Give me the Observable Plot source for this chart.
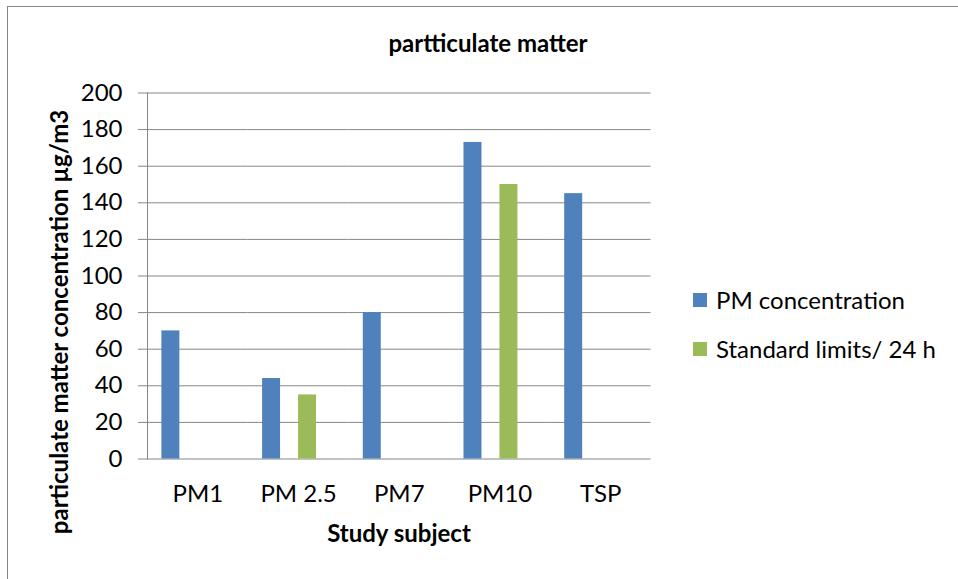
<!DOCTYPE html>
<html><head><meta charset="utf-8">
<script src="https://cdn.jsdelivr.net/npm/d3@7"></script>
<script src="https://cdn.jsdelivr.net/npm/@observablehq/plot@0.6"></script>
<style>
html,body{margin:0;padding:0;background:#fff;}
#wrap{position:relative;width:958px;height:579px;overflow:hidden;font-family:Lato,sans-serif;color:#000;}
#border{position:absolute;left:7px;top:6px;width:2000px;height:2000px;border:1px solid #868686;}
#chart{position:absolute;left:0;top:0;}
.t{position:absolute;white-space:nowrap;line-height:1;}
#title{left:488px;top:31px;transform:translateX(-50%);font-weight:bold;font-size:24px;}
#xlabel{left:399px;top:521px;transform:translateX(-50%);font-weight:bold;font-size:24px;}
#ylabel{left:59px;top:322px;transform:translate(-50%,-50%) rotate(-90deg);font-weight:bold;font-size:24px;}
.leg{position:absolute;left:693px;font-size:24px;white-space:nowrap;display:flex;align-items:center;}
.sw{display:inline-block;width:14px;height:14px;margin-right:9px;}
</style></head>
<body>
<div id="wrap">
  <div id="border"></div>
  <div id="chart"></div>
  <div class="t" id="title"></div>
  <div class="t" id="xlabel"></div>
  <div class="t" id="ylabel"></div>
  <div id="legend"></div>
</div>
<script>
const titleText = "partticulate matter";
const xTitle = "Study subject";
const yTitle = "particulate matter concentration µg/m3";
const categories = ["PM1", "PM 2.5", "PM7", "PM10", "TSP"];
const seriesNames = ["PM concentration", "Standard limits/ 24 h"];
const seriesColors = ["#4F81BD", "#9BBB59"];
const pmConcentration = [70, 44, 80, 173, 145];
const standardLimits = [null, 35, null, 150, null];
const yTicks = [0, 20, 40, 60, 80, 100, 120, 140, 160, 180, 200];
// Excel cluster slots: series occupy slots 1 and 3 of 4
const slots = [seriesNames[0], "slot 2", seriesNames[1], "slot 4"];

const rows = [];
categories.forEach((c, i) => {
  if (pmConcentration[i] != null) rows.push({category: c, series: seriesNames[0], value: pmConcentration[i]});
  if (standardLimits[i] != null) rows.push({category: c, series: seriesNames[1], value: standardLimits[i]});
});

const chart = Plot.plot({
  width: 958,
  height: 579,
  marginLeft: 147,
  marginRight: 307.5,
  marginTop: 92.5,
  marginBottom: 120.5,
  style: {fontFamily: "Lato, sans-serif", fontSize: "24px", color: "#000", background: "transparent", overflow: "visible"},
  fx: {domain: categories, padding: 0, round: false, label: null},
  x: {domain: slots, paddingInner: 0, paddingOuter: 0.8, round: false, axis: null},
  y: {domain: [0, 200]},
  color: {domain: seriesNames, range: seriesColors},
  marks: [
    Plot.gridY(yTicks, {stroke: "#868686", strokeOpacity: 1}),
    Plot.frame({anchor: "left", fx: categories[0], stroke: "#868686"}),
    Plot.axisY(yTicks, {tickSize: 9, tickPadding: 16, stroke: "#868686", fill: "#000", label: null}),
    Plot.barY(rows, {fx: "category", x: "series", y: "value", fill: "series"}),
    Plot.axisFx({anchor: "bottom", tickSize: 0, tickPadding: 26, label: null, fill: "#000"})
  ]
});
document.getElementById("chart").append(chart);
document.getElementById("title").textContent = titleText;
document.getElementById("xlabel").textContent = xTitle;
document.getElementById("ylabel").textContent = yTitle;

const legendTops = [285, 334];
const legend = document.getElementById("legend");
seriesNames.forEach((s, i) => {
  const d = document.createElement("div");
  d.className = "leg";
  d.style.top = legendTops[i] + "px";
  const sw = document.createElement("span");
  sw.className = "sw";
  sw.style.background = seriesColors[i];
  d.append(sw, document.createTextNode(s));
  legend.append(d);
});
</script>
</body></html>
